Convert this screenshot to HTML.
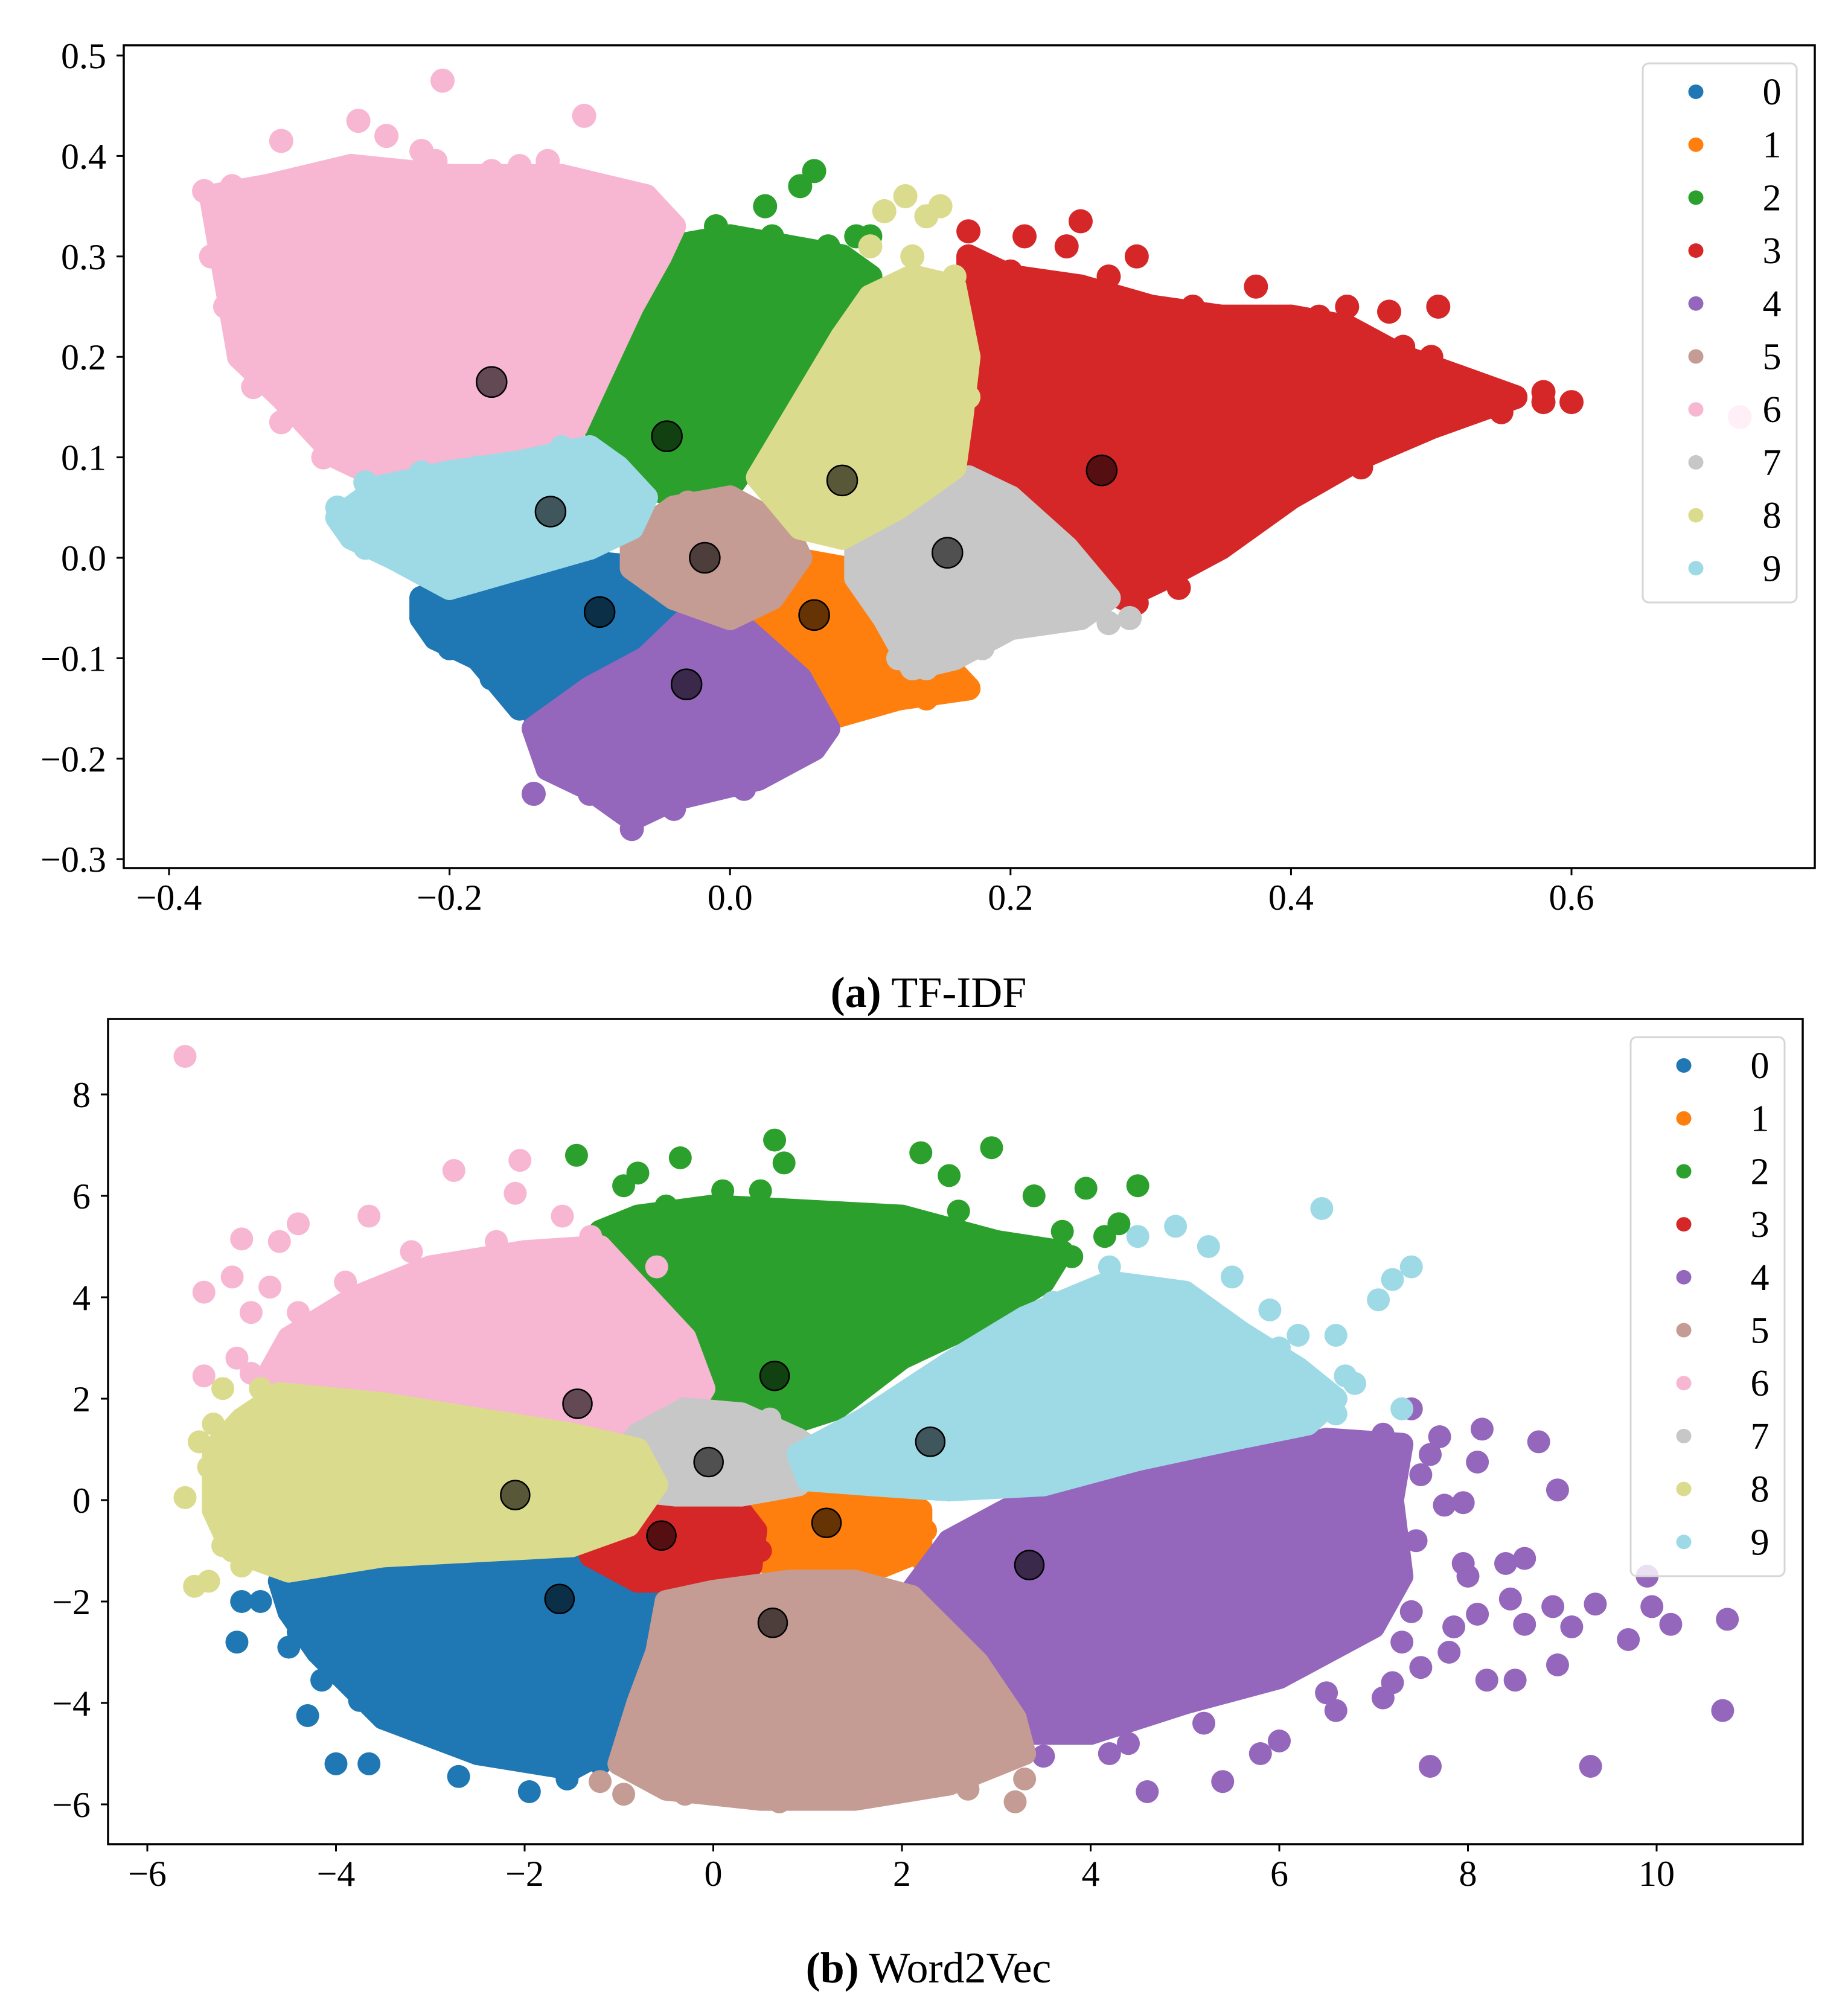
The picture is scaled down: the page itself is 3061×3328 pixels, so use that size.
<!DOCTYPE html>
<html><head><meta charset="utf-8"><style>
html,body{margin:0;padding:0;background:#fff}
svg{display:block}
text{font-family:"Liberation Serif",serif;fill:#000}
</style></head><body>
<svg id="fig" width="3061" height="3328" viewBox="0 0 3061 3328" xmlns="http://www.w3.org/2000/svg">
<g id="plotA"></g>
<g id="plotB"></g>
<text x="1538" y="1668" text-anchor="middle" font-size="72"><tspan font-weight="bold">(a)</tspan> TF-IDF</text>
<text x="1538" y="3284" text-anchor="middle" font-size="72"><tspan font-weight="bold">(b)</tspan> Word2Vec</text>
</svg>
<script>
const pal=["#1f77b4","#ff7f0e","#2ca02c","#d62728","#9467bd","#c49c94","#f7b6d2","#c7c7c7","#dbdb8d","#9edae5"];
const clusterLabels=["0","1","2","3","4","5","6","7","8","9"];

// ---- TF-IDF data ----
const aXTicks=[-0.4,-0.2,0.0,0.2,0.4,0.6];
const aYTicks=[-0.3,-0.2,-0.1,0.0,0.1,0.2,0.3,0.4,0.5];
const aBody=[
 [[-0.22,-0.04],[-0.16,-0.01],[-0.1,-0.005],[-0.06,-0.01],[-0.03,-0.04],[-0.04,-0.08],[-0.08,-0.11],[-0.12,-0.14],[-0.15,-0.15],[-0.18,-0.1],[-0.21,-0.08],[-0.22,-0.06]],
 [[0.0,-0.06],[0.04,-0.0],[0.08,-0.01],[0.11,-0.05],[0.15,-0.1],[0.17,-0.13],[0.12,-0.14],[0.07,-0.16],[0.04,-0.14],[0.02,-0.1]],
 [[-0.1,0.15],[-0.08,0.21],[-0.06,0.27],[-0.04,0.31],[0.0,0.32],[0.04,0.31],[0.08,0.3],[0.1,0.28],[0.07,0.23],[0.05,0.17],[0.02,0.11],[0.0,0.07],[-0.03,0.06],[-0.06,0.07],[-0.09,0.1]],
 [[0.17,0.3],[0.2,0.28],[0.25,0.27],[0.3,0.25],[0.35,0.24],[0.4,0.24],[0.44,0.23],[0.48,0.2],[0.52,0.18],[0.56,0.16],[0.5,0.13],[0.45,0.1],[0.4,0.06],[0.35,0.01],[0.31,-0.02],[0.28,-0.04],[0.24,0.0],[0.2,0.05],[0.17,0.08],[0.165,0.15],[0.17,0.22]],
 [[-0.14,-0.17],[-0.1,-0.13],[-0.06,-0.1],[-0.03,-0.06],[0.01,-0.07],[0.05,-0.12],[0.07,-0.17],[0.06,-0.19],[0.02,-0.22],[-0.04,-0.24],[-0.07,-0.26],[-0.1,-0.23],[-0.13,-0.21]],
 [[-0.07,0.02],[-0.04,0.05],[0.0,0.06],[0.04,0.03],[0.05,0.0],[0.03,-0.04],[0.0,-0.06],[-0.04,-0.04],[-0.07,-0.01]],
 [[-0.37,0.36],[-0.33,0.37],[-0.27,0.39],[-0.2,0.38],[-0.12,0.38],[-0.06,0.36],[-0.04,0.33],[-0.05,0.30],[-0.07,0.25],[-0.09,0.19],[-0.11,0.13],[-0.12,0.11],[-0.16,0.10],[-0.21,0.09],[-0.25,0.08],[-0.28,0.1],[-0.32,0.16],[-0.35,0.2],[-0.36,0.28]],
 [[0.09,0.01],[0.13,0.04],[0.17,0.08],[0.2,0.06],[0.24,0.01],[0.27,-0.04],[0.25,-0.06],[0.2,-0.07],[0.16,-0.1],[0.13,-0.11],[0.11,-0.06],[0.09,-0.02]],
 [[0.02,0.08],[0.05,0.15],[0.08,0.22],[0.1,0.26],[0.13,0.28],[0.16,0.27],[0.17,0.2],[0.165,0.14],[0.16,0.09],[0.12,0.05],[0.08,0.02],[0.05,0.03]],
 [[-0.28,0.04],[-0.25,0.07],[-0.2,0.085],[-0.15,0.095],[-0.1,0.11],[-0.08,0.09],[-0.06,0.06],[-0.07,0.03],[-0.1,0.01],[-0.15,-0.01],[-0.2,-0.03],[-0.24,0.0],[-0.27,0.02]]
];
const aOut=[
 [[-0.22,-0.05],[-0.2,-0.09],[-0.17,-0.12],[-0.14,-0.155],[-0.12,-0.01],[-0.09,-0.005]],
 [[0.16,-0.12],[0.14,-0.14],[0.09,-0.15],[0.06,-0.16],[0.0,-0.07]],
 [[0.06,0.385],[0.05,0.37],[0.025,0.35],[-0.01,0.33],[0.09,0.32],[0.1,0.32],[-0.1,0.14],[-0.08,0.2],[0.03,0.32],[0.07,0.31]],
 [[0.58,0.165],[0.6,0.155],[0.58,0.155],[0.55,0.145],[0.505,0.25],[0.25,0.335],[0.24,0.31],[0.21,0.32],[0.29,0.3],[0.17,0.325],[0.375,0.27],[0.44,0.25],[0.47,0.245],[0.48,0.21],[0.5,0.2],[0.53,0.175],[0.33,0.25],[0.42,0.24],[0.45,0.09],[0.39,0.05],[0.32,-0.03],[0.29,-0.045],[0.2,0.285],[0.27,0.28]],
 [[-0.14,-0.235],[0.01,-0.23],[-0.07,-0.27],[0.06,-0.18],[-0.1,-0.235],[-0.04,-0.25],[0.04,-0.2]],
 [[-0.07,0.0],[0.04,0.02],[-0.03,0.055]],
 [[-0.205,0.475],[-0.104,0.44],[-0.32,0.415],[-0.265,0.435],[-0.245,0.42],[-0.375,0.365],[-0.355,0.37],[-0.35,0.2],[-0.32,0.135],[-0.36,0.25],[-0.34,0.17],[-0.06,0.36],[0.72,0.14],[-0.33,0.33],[-0.36,0.33],[-0.37,0.3],[-0.34,0.26],[-0.33,0.21],[-0.3,0.2],[-0.27,0.12],[-0.15,0.39],[-0.13,0.395],[-0.22,0.405],[-0.21,0.395],[-0.17,0.385],[-0.08,0.36],[-0.07,0.35],[-0.05,0.34],[-0.3,0.38],[-0.25,0.385],[-0.29,0.1]],
 [[0.285,-0.06],[0.27,-0.065],[0.26,-0.05],[0.23,-0.06],[0.18,-0.09],[0.14,-0.11],[0.12,-0.1]],
 [[0.125,0.36],[0.11,0.345],[0.15,0.35],[0.14,0.34],[0.1,0.31],[0.13,0.3],[0.16,0.28],[0.165,0.22],[0.17,0.16],[0.03,0.1]],
 [[-0.28,0.05],[-0.26,0.075],[-0.22,0.085],[-0.18,0.09],[-0.12,0.11],[-0.26,0.01]]
];
const aCentX=[-0.093,0.06,-0.045,0.265,-0.031,-0.018,-0.17,0.155,0.08,-0.128];
const aCentY=[-0.054,-0.057,0.121,0.087,-0.126,0.0,0.175,0.005,0.077,0.046];

// ---- Word2Vec data ----
const bXTicks=[-6,-4,-2,0,2,4,6,8,10];
const bYTicks=[-6,-4,-2,0,2,4,6,8];
const bBody=[
 [[-4.6,-1.6],[-3.5,-1.3],[-2.5,-1.2],[-1.5,-1.0],[-0.8,-1.2],[-0.5,-1.8],[-0.7,-3.5],[-1.0,-4.8],[-1.5,-5.3],[-2.5,-5.0],[-3.5,-4.3],[-4.2,-3.0],[-4.5,-2.2]],
 [[0.4,-0.4],[0.6,0.3],[1.2,0.6],[1.8,0.4],[2.2,-0.2],[2.2,-1.0],[1.8,-1.3],[1.0,-1.4],[0.5,-1.2]],
 [[-1.2,5.3],[-0.8,5.6],[0,5.8],[1,5.7],[2,5.6],[3,5.1],[3.7,4.9],[3.5,4.3],[2.8,3.5],[2.0,2.8],[1.3,1.8],[0.8,1.5],[0.3,1.6],[-0.3,2.3],[-0.6,3.4],[-1.0,4.5]],
 [[-1.45,-0.5],[-1.0,-0.1],[-0.3,0.2],[0.2,0.0],[0.45,-0.6],[0.4,-1.3],[-0.2,-1.6],[-0.8,-1.6],[-1.3,-1.1]],
 [[2.1,-1.8],[2.5,-0.8],[3.2,-0.1],[4.5,0.4],[5.5,0.8],[6.5,1.2],[7.3,1.1],[7.2,0.0],[7.3,-1.5],[7.0,-2.5],[6.0,-3.5],[5.0,-4.0],[4.0,-4.6],[3.3,-4.6],[2.8,-3.8],[2.4,-2.7]],
 [[-0.5,-2.0],[0.0,-1.8],[0.8,-1.6],[1.5,-1.6],[2.1,-1.9],[2.8,-3.2],[3.2,-4.3],[3.3,-5.0],[2.5,-5.6],[1.5,-5.9],[0.5,-5.9],[-0.5,-5.7],[-1.0,-5.2],[-0.8,-4.0],[-0.6,-3.0]],
 [[-4.8,2.2],[-4.5,3.2],[-3.8,4.0],[-3,4.6],[-2,4.9],[-1.2,5.0],[-0.8,4.2],[-0.3,3.2],[-0.1,2.2],[-0.3,1.6],[-0.8,1.3],[-1.5,1.2],[-2.5,1.4],[-3.5,1.8],[-4.2,2.0]],
 [[-1.1,0.6],[-0.8,1.3],[-0.3,1.8],[0.3,1.7],[0.9,1.2],[1.2,0.8],[0.9,0.3],[0.3,0.1],[-0.4,0.1],[-0.9,0.2]],
 [[-5.3,1.0],[-5.0,1.6],[-4.6,2.1],[-3.5,1.9],[-2.5,1.6],[-1.5,1.3],[-0.8,1.0],[-0.6,0.3],[-0.9,-0.5],[-1.5,-0.9],[-2.5,-1.0],[-3.5,-1.1],[-4.5,-1.4],[-5.1,-1.0],[-5.3,-0.2]],
 [[0.9,0.9],[1.6,1.6],[2.5,2.7],[3.3,3.6],[4.2,4.3],[5.0,4.1],[5.6,3.3],[6.2,2.6],[6.6,2.0],[6.3,1.5],[5.5,1.2],[4.5,0.8],[3.5,0.3],[2.5,0.2],[1.7,0.3],[1.0,0.4]]
];
const bOut=[
 [[-5.0,-2.0],[-5.05,-2.8],[-4.0,-5.2],[-3.65,-5.2],[-2.7,-5.45],[-1.95,-5.75],[-4.3,-4.25],[-4.15,-3.55],[-3.75,-3.95],[-1.55,-5.5],[-4.4,-2.6],[-4.5,-2.9],[-3.2,-4.5],[-2.2,-5.0],[-1.2,-5.2],[-0.6,-4.3],[-0.55,-2.5],[-0.7,-1.5],[-4.8,-2.0]],
 [[2.25,-0.6],[2.2,-1.15],[0.45,-0.9],[1.5,0.6]],
 [[-1.45,6.8],[0.65,7.1],[0.75,6.65],[2.95,6.95],[2.2,6.85],[-0.35,6.75],[-0.8,6.45],[-0.95,6.2],[3.95,6.15],[4.5,6.2],[3.4,6.0],[2.5,6.4],[4.3,5.45],[4.15,5.2],[0.1,6.1],[1.5,5.65],[-1.0,5.2],[-0.5,5.8],[0.5,6.1],[2.6,5.7],[3.7,5.3],[3.8,4.8]],
 [[-1.45,-0.4],[0.5,-1.0]],
 [[10.7,-4.15],[10.75,-2.35],[10.15,-2.45],[9.95,-2.1],[9.9,-1.5],[9.7,-2.75],[9.35,-2.05],[9.3,-5.25],[8.95,-3.25],[8.95,0.2],[8.75,1.15],[8.15,1.4],[8.1,0.75],[7.6,-5.25],[7.75,-0.1],[7.95,-1.25],[8.1,-2.25],[8.45,-1.95],[8.6,-2.45],[8.2,-3.55],[8.5,-3.55],[8.9,-2.1],[8.4,-1.25],[7.85,-2.5],[7.5,-3.3],[7.8,-3.0],[7.7,1.25],[7.4,-2.2],[4.6,-5.75],[5.4,-5.55],[6.0,-4.75],[6.6,-4.15],[5.8,-5.0],[7.1,-3.9],[7.2,-3.6],[3.5,-5.05],[4.2,-5.0],[7.4,1.8],[9.1,-2.5],[8.6,-1.15],[8.0,-1.5],[7.6,0.9],[7.95,-0.05],[7.5,0.5],[7.45,-0.8],[7.3,-2.8],[6.5,-3.8],[5.2,-4.4],[4.4,-4.8],[3.8,-4.6],[2.5,-2.4],[7.1,1.3]],
 [[3.2,-5.95],[3.3,-5.5],[2.7,-5.7],[-1.2,-5.55],[-0.95,-5.8],[-0.3,-5.8],[0.7,-5.95],[1.8,-5.8],[3.1,-4.9],[3.0,-4.0],[-0.9,-4.8]],
 [[-5.6,8.75],[-2.75,6.5],[-2.05,6.7],[-2.1,6.05],[-3.65,5.6],[-4.6,5.1],[-5.0,5.15],[-5.4,4.1],[-4.9,3.7],[-5.4,2.45],[-5.05,2.8],[-4.4,5.45],[-1.6,5.6],[-5.1,4.4],[-4.7,4.2],[-4.4,3.7],[-3.9,4.3],[-3.2,4.9],[-2.3,5.1],[-1.3,5.2],[-0.6,4.6],[-4.9,2.5]],
 [[1.2,1.0],[-1.1,0.4],[0.6,1.6]],
 [[-5.6,0.05],[-5.45,1.15],[-5.2,2.2],[-5.5,-1.7],[-5.35,-1.6],[-5.35,0.65],[-5.0,-1.3],[-5.2,-0.9],[-5.3,1.5],[-4.8,2.2]],
 [[6.45,5.75],[7.4,4.6],[7.2,4.35],[7.05,3.95],[6.6,3.25],[6.7,2.45],[6.8,2.3],[7.3,1.8],[4.9,5.4],[5.25,5.0],[5.5,4.4],[4.5,5.2],[5.9,3.75],[6.2,3.25],[6.0,3.0],[6.6,1.7],[6.2,1.5],[4.2,4.6],[3.6,3.9]]
];
const bCentX=[-1.63,1.2,0.65,-0.55,3.35,0.63,-1.44,-0.05,-2.1,2.3];
const bCentY=[-1.95,-0.45,2.45,-0.7,-1.28,-2.42,1.9,0.75,0.1,1.15];

const NS="http://www.w3.org/2000/svg";
function mk(tag,attrs,parent){const e=document.createElementNS(NS,tag);for(const k in attrs)e.setAttribute(k,attrs[k]);parent.appendChild(e);return e;}

function drawPlot(g,cfg){
  const sx=v=>cfg.x0px+(v-cfg.x0v)*cfg.xs;
  const sy=v=>cfg.y0px-(v-cfg.y0v)*cfg.ys;
  const r=cfg.r;
  const clipId=cfg.id+"-clip";
  const defs=mk("defs",{},g);
  const cp=mk("clipPath",{id:clipId},defs);
  mk("rect",{x:cfg.L,y:cfg.T,width:cfg.R-cfg.L,height:cfg.B-cfg.T},cp);
  const area=mk("g",{"clip-path":"url(#"+clipId+")"},g);
  
  
  for(let c=0;c<10;c++){
    const cg=mk("g",{},area);
    
    
    const pts=cfg.body[c].map(p=>sx(p[0]).toFixed(1)+","+sy(p[1]).toFixed(1)).join(" ");
    const poly=mk("polygon",{points:pts,fill:pal[c],stroke:pal[c],"stroke-width":2*r,"stroke-linejoin":"round"},cg);
    
    
    cfg.body[c].forEach(p=>{
      const d=mk("circle",{cx:sx(p[0]),cy:sy(p[1]),r:r,fill:pal[c]},cg);
      
      
    });
    cfg.out[c].forEach(p=>{
      const d=mk("circle",{cx:sx(p[0]),cy:sy(p[1]),r:r,fill:pal[c]},cg);
      
      
    });
  }
  for(let c=0;c<10;c++){
    const cc=mk("circle",{cx:sx(cfg.cx[c]),cy:sy(cfg.cy[c]),r:cfg.cr,fill:"rgba(0,0,0,0.6)",stroke:"#000","stroke-width":2.5},area);
    
    
  }
  const fr=mk("rect",{x:cfg.L,y:cfg.T,width:cfg.R-cfg.L,height:cfg.B-cfg.T,fill:"none",stroke:"#000","stroke-width":3.5},g);
  
  
  cfg.xt.forEach(v=>{
    const x=sx(v);
    const t=mk("line",{x1:x,x2:x,y1:cfg.B,y2:cfg.B+12,stroke:"#000","stroke-width":3},g);
    
    
    const lb=mk("text",{x:x,y:cfg.B+69,"text-anchor":"middle","font-size":cfg.fs},g);
    lb.textContent=cfg.fmt(v);
    
    
  });
  cfg.yt.forEach(v=>{
    const y=sy(v);
    const t=mk("line",{x1:cfg.L-12,x2:cfg.L,y1:y,y2:y,stroke:"#000","stroke-width":3},g);
    
    
    const lb=mk("text",{x:cfg.L-29,y:y+21,"text-anchor":"end","font-size":cfg.fs},g);
    lb.textContent=cfg.fmt(v);
    
    
  });
  const lg=mk("g",{},g);
  
  
  mk("rect",{x:cfg.lx,y:cfg.ly,width:255,height:893,rx:10,fill:"rgba(255,255,255,0.8)",stroke:"#d6d6d6","stroke-width":3},lg);
  for(let c=0;c<10;c++){
    const e=mk("g",{},lg);
    
    
    const y=cfg.ly+47+c*87.7;
    mk("ellipse",{cx:cfg.lx+88,cy:y,rx:12.5,ry:12,fill:pal[c]},e);
    const t=mk("text",{x:cfg.lx+214,y:y+21,"text-anchor":"middle","font-size":62},e);
    t.textContent=clusterLabels[c];
  }
}
drawPlot(document.getElementById("plotA"),{id:"a",L:205,R:3006,T:75,B:1438,x0v:-0.4,x0px:280,xs:2323,y0v:0.5,y0px:92,ys:1664,r:20,cr:25,
  body:aBody,out:aOut,cx:aCentX,cy:aCentY,xt:aXTicks,yt:aYTicks,fs:60,lx:2721,ly:105,
  fmt:v=>(v<0?"\u2212":"")+Math.abs(v).toFixed(1)});
drawPlot(document.getElementById("plotB"),{id:"b",L:179,R:2986,T:1688,B:3055,x0v:-6,x0px:244,xs:156.25,y0v:8,y0px:1813,ys:84,r:19,cr:24,
  body:bBody,out:bOut,cx:bCentX,cy:bCentY,xt:bXTicks,yt:bYTicks,fs:60,lx:2701,ly:1718,
  fmt:v=>(v<0?"\u2212":"")+Math.abs(v)});
</script>
</body></html>
